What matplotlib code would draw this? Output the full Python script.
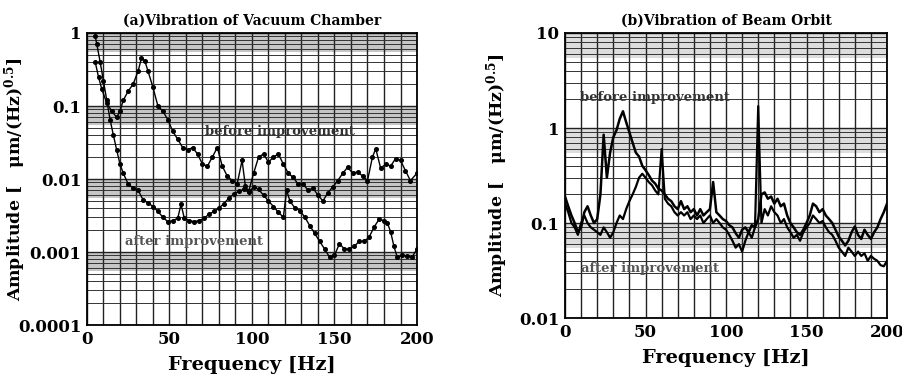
import numpy as np
import matplotlib
matplotlib.use("Agg")
import matplotlib.pyplot as plt
from matplotlib.ticker import FixedLocator, FixedFormatter, NullFormatter, MultipleLocator

plt.rcParams['font.family'] = ['DejaVu Serif']
plt.rcParams['font.weight'] = 'bold'
plt.rcParams['mathtext.fontset'] = 'dejavuserif'

# (a) vacuum chamber
before_a_f = [5, 7, 9, 12, 15, 18, 20, 22, 25, 28, 31, 33, 35, 37, 40, 43, 46, 49, 52, 55,
              58, 61, 64, 67, 70, 73, 76, 79, 82, 85, 88, 91, 94, 96, 98, 101, 104, 107, 110, 113,
              116, 119, 122, 125, 128, 131, 134, 137, 140, 143, 146, 149, 152, 155, 158, 161, 164, 167, 170, 173,
              175, 178, 181, 184, 187, 190, 193, 196, 200]
before_a = [0.4, 0.25, 0.17, 0.11, 0.085, 0.07, 0.085, 0.12, 0.16, 0.2,
            0.3, 0.45, 0.42, 0.3, 0.18, 0.1, 0.085, 0.065, 0.045, 0.035,
            0.027, 0.025, 0.027, 0.022, 0.016, 0.015, 0.02, 0.027, 0.015, 0.011,
            0.0095, 0.0085, 0.018, 0.008, 0.0068, 0.012, 0.02, 0.022, 0.017, 0.02,
            0.022, 0.016, 0.012, 0.0105, 0.0085, 0.0085, 0.007, 0.0075, 0.006, 0.005,
            0.0065, 0.0078, 0.0095, 0.012, 0.0145, 0.012, 0.0125, 0.011, 0.0095, 0.02,
            0.026, 0.014, 0.016, 0.015, 0.019, 0.018, 0.013, 0.0095, 0.012]

after_a_f = [5, 6, 8, 10, 12, 14, 16, 18, 20, 22, 25, 28, 31, 34, 37, 40, 43, 46, 49, 52,
             55, 57, 59, 62, 65, 68, 71, 74, 77, 80, 83, 86, 89, 92, 95, 98, 101, 104, 107, 110,
             113, 116, 119, 121, 123, 126, 129, 132, 135, 138, 141, 144, 147, 150, 153, 156, 159, 162, 165, 168,
             171, 174, 177, 180, 182, 184, 186, 188, 191, 194, 197, 200]
after_a = [0.9, 0.7, 0.4, 0.22, 0.12, 0.065, 0.04, 0.025, 0.016, 0.012,
           0.0085, 0.0075, 0.007, 0.0052, 0.0047, 0.0042, 0.0036, 0.003, 0.0026, 0.0027,
           0.0029, 0.0045, 0.0029, 0.0027, 0.0026, 0.0027, 0.0029, 0.0033, 0.0036, 0.004,
           0.0046, 0.0055, 0.0062, 0.0068, 0.0072, 0.0066, 0.0078, 0.0072, 0.006, 0.005,
           0.0042, 0.0035, 0.003, 0.007, 0.005, 0.004, 0.0037, 0.003, 0.0023, 0.0018,
           0.0014, 0.0011, 0.00085, 0.0009, 0.0013, 0.0011, 0.0011, 0.0012, 0.0014, 0.0014,
           0.0016, 0.0022, 0.0028, 0.0027, 0.0025, 0.0019, 0.0012, 0.00085, 0.0009, 0.00088,
           0.00085, 0.0011]

# (b) beam orbit, sampled every 2 Hz
freq_b = np.arange(0, 201, 2)
before_b = [0.19, 0.15, 0.12, 0.1, 0.08, 0.09, 0.13, 0.15, 0.12, 0.1,
            0.11, 0.2, 0.85, 0.3, 0.55, 0.8, 0.95, 1.25, 1.5, 1.15,
            0.9, 0.7, 0.55, 0.5, 0.4, 0.36, 0.32, 0.28, 0.26, 0.23,
            0.22, 0.2, 0.18, 0.17, 0.15, 0.14, 0.17, 0.14, 0.15, 0.13,
            0.14, 0.12, 0.14, 0.12, 0.13, 0.14, 0.27, 0.13, 0.12, 0.11,
            0.105, 0.095, 0.09, 0.078, 0.07, 0.085, 0.09, 0.08, 0.095, 0.09,
            0.11, 0.2, 0.21, 0.18, 0.19, 0.16, 0.18, 0.15, 0.16, 0.12,
            0.1, 0.09, 0.08, 0.075, 0.085, 0.1, 0.12, 0.16, 0.15, 0.13,
            0.14, 0.12, 0.11, 0.1, 0.085, 0.072, 0.065, 0.058, 0.065, 0.08,
            0.092, 0.075, 0.068, 0.085, 0.075, 0.068, 0.08, 0.09, 0.11, 0.13,
            0.16]
after_b = [0.16, 0.13, 0.1, 0.09, 0.075, 0.1, 0.12, 0.1, 0.09, 0.085,
           0.08, 0.075, 0.09, 0.08, 0.07, 0.08, 0.1, 0.12, 0.11, 0.14,
           0.17, 0.2, 0.24, 0.3, 0.33, 0.3, 0.27, 0.25, 0.22, 0.2,
           0.6, 0.18, 0.16, 0.15, 0.13, 0.12, 0.13, 0.12, 0.13, 0.11,
           0.12, 0.11, 0.12, 0.1, 0.11, 0.12, 0.1, 0.11, 0.1, 0.09,
           0.085, 0.075, 0.065, 0.055, 0.06, 0.05, 0.065, 0.08, 0.07, 0.09,
           1.7, 0.1, 0.14, 0.12, 0.15, 0.13, 0.12, 0.1, 0.11, 0.09,
           0.08, 0.07, 0.075, 0.065, 0.08, 0.09, 0.1, 0.12, 0.11, 0.1,
           0.105, 0.09, 0.08, 0.075, 0.065, 0.055, 0.05, 0.045, 0.055, 0.05,
           0.045, 0.05, 0.045, 0.048, 0.04, 0.045, 0.042, 0.04, 0.036, 0.035,
           0.04]

ylab = r'Amplitude [   μm/(Hz)$^{\mathbf{0.5}}$]'


def style_axis(ax, decades, band_color):
    ax.set_yscale('log')
    ax.set_xlim(0, 200)
    ax.set_ylim(decades[0], decades[-1])
    for d in decades[1:]:
        ax.axhspan(0.55 * d, d, color=band_color, zorder=0, lw=0)
    ax.yaxis.set_major_locator(FixedLocator(decades))
    ax.yaxis.set_major_formatter(FixedFormatter([('%g' % d) for d in decades]))
    ax.yaxis.set_minor_locator(FixedLocator([m * d for d in decades[:-1] for m in range(2, 10)]))
    ax.yaxis.set_minor_formatter(NullFormatter())
    ax.xaxis.set_major_locator(MultipleLocator(50))
    ax.xaxis.set_minor_locator(MultipleLocator(10))
    ax.grid(which='both', axis='x', color='#222222', lw=1.0, zorder=1)
    ax.grid(which='major', axis='y', color='#222222', lw=1.0, zorder=1)
    ax.grid(which='minor', axis='y', color='#333333', lw=0.7, zorder=1)
    ax.tick_params(which='both', length=0, labelsize=12, pad=4)
    for s in ax.spines.values():
        s.set_linewidth(1.3)
    ax.set_xlabel('Frequency [Hz]', fontsize=14, fontweight='bold', labelpad=6)


fig = plt.figure(figsize=(9.03, 3.78), dpi=100)

ax1 = fig.add_axes([0.0963, 0.1402, 0.3655, 0.7725])
style_axis(ax1, [1e-4, 1e-3, 1e-2, 1e-1, 1], '#c6c6c6')
ax1.plot(before_a_f, before_a, '-o', color='black', lw=1.0, ms=2.6, zorder=3)
ax1.plot(after_a_f, after_a, '-o', color='black', lw=1.0, ms=2.6, zorder=3)
ax1.text(117, 0.045, 'before improvement', ha='center', va='center', fontsize=9.5, color='#333333', zorder=4)
ax1.text(65, 0.0014, 'after improvement', ha='center', va='center', fontsize=9.5, color='#555555', zorder=4)
ax1.set_title('(a)Vibration of Vacuum Chamber', fontsize=10, fontweight='bold', pad=6)
ax1.set_ylabel(ylab, fontsize=12.5, fontweight='bold')
ax1.yaxis.set_label_coords(-0.178, 0.5)

ax2 = fig.add_axes([0.6257, 0.1587, 0.3566, 0.754])
style_axis(ax2, [1e-2, 1e-1, 1, 10], '#dddddd')
ax2.plot(freq_b, after_b, '-', color='black', lw=1.6, zorder=3)
ax2.plot(freq_b, before_b, '-', color='black', lw=1.8, zorder=3)
ax2.text(56, 2.1, 'before improvement', ha='center', va='center', fontsize=9.5, color='#333333', zorder=4)
ax2.text(53, 0.033, 'after improvement', ha='center', va='center', fontsize=9.5, color='#555555', zorder=4)
ax2.set_title('(b)Vibration of Beam Orbit', fontsize=10, fontweight='bold', pad=6)
ax2.set_ylabel(ylab, fontsize=12.5, fontweight='bold')
ax2.yaxis.set_label_coords(-0.17, 0.5)

fig.savefig('out.png', dpi=100)
